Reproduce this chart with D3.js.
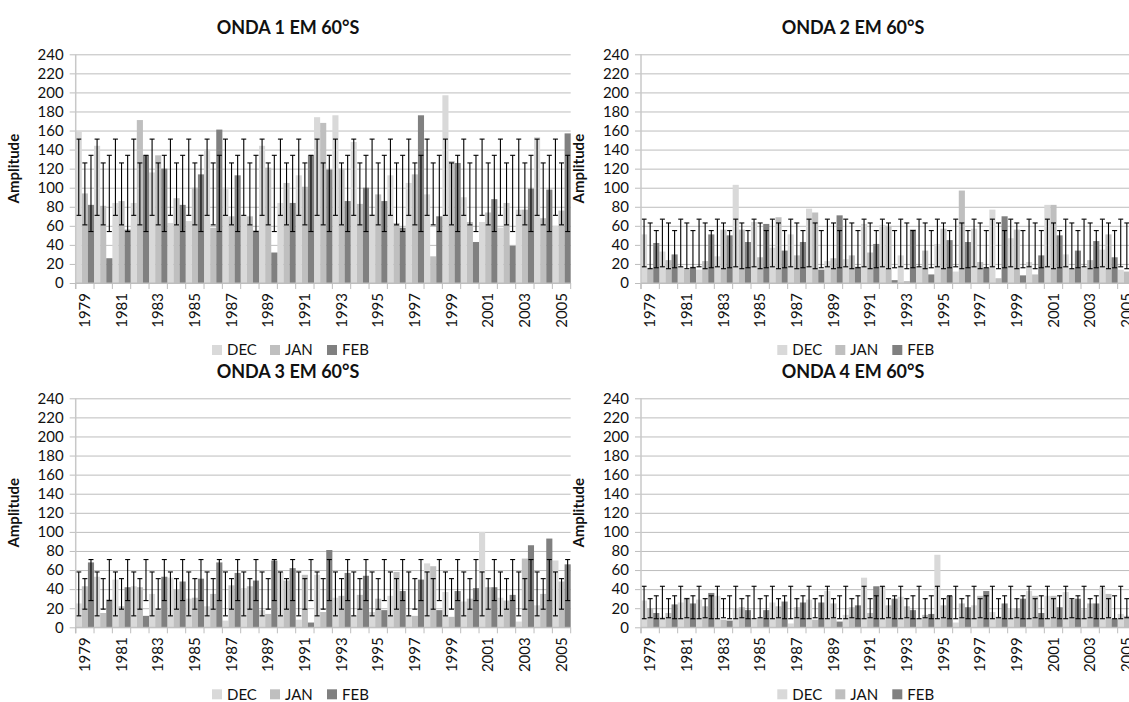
<!DOCTYPE html>
<html><head><meta charset="utf-8">
<script src="https://cdn.jsdelivr.net/npm/d3@7"></script>
<style>
body{margin:0;background:#fff}
svg{display:block}
text{font-family:Lato,"Open Sans",sans-serif;fill:#111}
</style></head>
<body><svg id="c" width="1129" height="702"></svg>
<script>
// ---------- data ----------
const years = [1979,1980,1981,1982,1983,1984,1985,1986,1987,1988,1989,1990,1991,1992,1993,1994,1995,1996,1997,1998,1999,2000,2001,2002,2003,2004,2005];
const yearLabels = [1979,1981,1983,1985,1987,1989,1991,1993,1995,1997,1999,2001,2003,2005];
const seriesNames = ["DEC","JAN","FEB"];
const titles = ["ONDA 1 EM 60°S","ONDA 2 EM 60°S","ONDA 3 EM 60°S","ONDA 4 EM 60°S"];
const yTicks = [0,20,40,60,80,100,120,140,160,180,200,220,240];
const yTitle = "Amplitude";

const dec1 = [159,144,84,84,116,63,65,140,100,71,144,84,113,174,176,148,72,113,105,93,197,90,64,58,77,153,60];
const jan1 = [94,81,86,171,134,89,100,58,70,70,121,105,101,168,120,83,93,63,114,28,128,64,74,84,77,68,76];
const feb1 = [82,26,56,134,120,82,114,161,113,55,32,84,134,119,86,100,86,58,176,70,126,43,88,39,99,98,157];

const dec2 = [51,33,17,14,28,103,64,37,51,78,23,25,62,61,29,17,41,12,57,77,47,22,82,30,16,35,14];
const jan2 = [16,24,14,23,56,56,27,69,29,74,26,29,32,60,2,34,57,97,22,5,56,9,82,15,24,51,12];
const feb2 = [42,30,17,51,50,43,62,34,43,14,71,17,41,3,56,9,45,43,16,70,8,29,50,34,44,27,33];

const dec3 = [25,53,50,43,35,52,30,22,7,41,18,58,8,55,31,12,16,33,12,67,37,27,100,31,6,23,70];
const jan3 = [43,15,22,42,18,40,31,35,44,43,14,49,55,16,33,34,30,58,12,64,11,30,42,28,72,35,48];
const feb3 = [68,29,42,12,53,48,51,68,57,49,70,62,5,81,57,54,18,38,50,18,38,41,42,34,86,93,66];

const dec4 = [28,11,26,29,33,20,8,26,4,29,38,13,52,43,32,9,76,5,23,16,20,38,33,37,19,42,14];
const jan4 = [20,15,31,22,8,21,10,22,21,8,25,21,15,23,22,13,23,25,33,11,20,33,33,29,25,35,12];
const feb4 = [15,24,25,36,7,18,18,27,26,26,6,23,43,30,18,14,33,21,38,25,30,15,21,30,25,9,12];

// error bar ranges [low, high] per series (DEC, JAN, FEB)
const err1 = [[71,151],[61,126],[54,134]];
const err2 = [[17,67],[15,63],[16,55]];
const err3 = [[12,58],[19,51],[28,71]];
const err4 = [[9,43],[10,30],[9,33]];

const panelData = [
  {series:[dec1,jan1,feb1], err:err1},
  {series:[dec2,jan2,feb2], err:err2},
  {series:[dec3,jan3,feb3], err:err3},
  {series:[dec4,jan4,feb4], err:err4}
];

// ---------- layout / style ----------
const colors = ["#d9d9d9","#bfbfbf","#808080"];
const layout = [
  {left:75.7, right:570.7, top:54.3, bottom:283},
  {left:641,  right:1136,  top:54.3, bottom:283},
  {left:75.7, right:570.7, top:398.3, bottom:627.3},
  {left:641,  right:1136,  top:398.3, bottom:627.3}
];
const titleCx = [288, 853];

const svg = d3.select("#c");

panelData.forEach((pd, i) => {
  const L = layout[i];
  const g = svg.append("g");
  const x = d3.scaleBand().domain(years).range([L.left, L.right]).padding(0);
  const xs = d3.scaleBand().domain(seriesNames).range([0, x.bandwidth()]).padding(0);
  const y = d3.scaleLinear().domain([0,240]).range([L.bottom, L.top]);
  const cx = titleCx[i % 2] + 0;

  // title
  g.append("text").attr("x", cx).attr("y", L.top - 20)
    .attr("text-anchor","middle").style("font-weight","bold").style("font-size","18px")
    .text(titles[i]);

  // gridlines
  const grid = g.append("g").attr("transform",`translate(${L.left},0)`)
    .call(d3.axisLeft(y).tickValues(yTicks).tickSize(-(L.right-L.left)).tickFormat(""));
  grid.select(".domain").remove();
  grid.selectAll("line").attr("stroke","#bdbdbd").attr("stroke-width",1);

  // y axis with labels and outer ticks
  const ya = g.append("g").attr("transform",`translate(${L.left},0)`)
    .call(d3.axisLeft(y).tickValues(yTicks).tickSize(6).tickPadding(6));
  ya.select(".domain").remove();
  ya.selectAll("line").attr("stroke","#bdbdbd");
  ya.selectAll("text").style("font-size","15px").attr("fill","#111").style("font-family","Lato,sans-serif");

  // y title
  g.append("text")
    .attr("transform",`translate(${L.left-57},${(L.top+L.bottom)/2}) rotate(-90)`)
    .attr("text-anchor","middle").style("font-weight","bold").style("font-size","15px")
    .text(yTitle);

  // bars
  pd.series.forEach((vals, s) => {
    g.append("g").selectAll("rect").data(vals).join("rect")
      .attr("x",(d,k)=>x(years[k]) + xs(seriesNames[s]))
      .attr("width", xs.bandwidth())
      .attr("y", d=>y(d))
      .attr("height", d=>y(0)-y(d))
      .attr("fill", colors[s]);
  });

  // error bars
  pd.series.forEach((vals, s) => {
    const [lo, hi] = pd.err[s];
    const eg = g.append("g").attr("stroke","#000").attr("stroke-width",1.1);
    years.forEach(yr => {
      const c = x(yr) + xs(seriesNames[s]) + xs.bandwidth()/2;
      eg.append("line").attr("x1",c).attr("x2",c).attr("y1",y(lo)).attr("y2",y(hi));
      eg.append("line").attr("x1",c-2.5).attr("x2",c+2.5).attr("y1",y(lo)).attr("y2",y(lo));
      eg.append("line").attr("x1",c-2.5).attr("x2",c+2.5).attr("y1",y(hi)).attr("y2",y(hi));
    });
  });

  // left axis line
  g.append("line").attr("x1",L.left).attr("x2",L.left).attr("y1",L.top).attr("y2",L.bottom+6)
    .attr("stroke","#c8c8c8").attr("stroke-width",1.5);
  // bottom axis line
  g.append("line").attr("x1",L.left).attr("x2",L.right).attr("y1",L.bottom).attr("y2",L.bottom)
    .attr("stroke","#bdbdbd");
  // category boundary ticks
  g.append("g").selectAll("line").data(years.concat([null])).join("line")
    .attr("x1",(d,k)=> k<years.length ? x(d) : L.right)
    .attr("x2",(d,k)=> k<years.length ? x(d) : L.right)
    .attr("y1",L.bottom).attr("y2",L.bottom+6).attr("stroke","#bdbdbd");

  // x labels
  const xa = g.append("g").attr("transform",`translate(0,${L.bottom})`)
    .call(d3.axisBottom(x).tickValues(yearLabels).tickSize(0).tickFormat(d3.format("d")));
  xa.select(".domain").remove();
  xa.selectAll("text")
    .attr("transform","rotate(-90)")
    .attr("x",-10).attr("y",0).attr("dy","0.35em")
    .attr("text-anchor","end")
    .attr("fill","#111")
    .style("font-size","15px").style("font-family","Lato,sans-serif");

  // legend
  const lgY = L.bottom + 67;
  const lgX = [212, 270, 327].map(v => v + (i % 2) * 565.3);
  seriesNames.forEach((n, s) => {
    g.append("rect").attr("x",lgX[s]).attr("y",lgY-5).attr("width",10).attr("height",10).attr("fill",colors[s]);
    g.append("text").attr("x",lgX[s]+15).attr("y",lgY).attr("dy","0.35em")
      .style("font-size","15px").text(n);
  });
});
</script></body></html>
